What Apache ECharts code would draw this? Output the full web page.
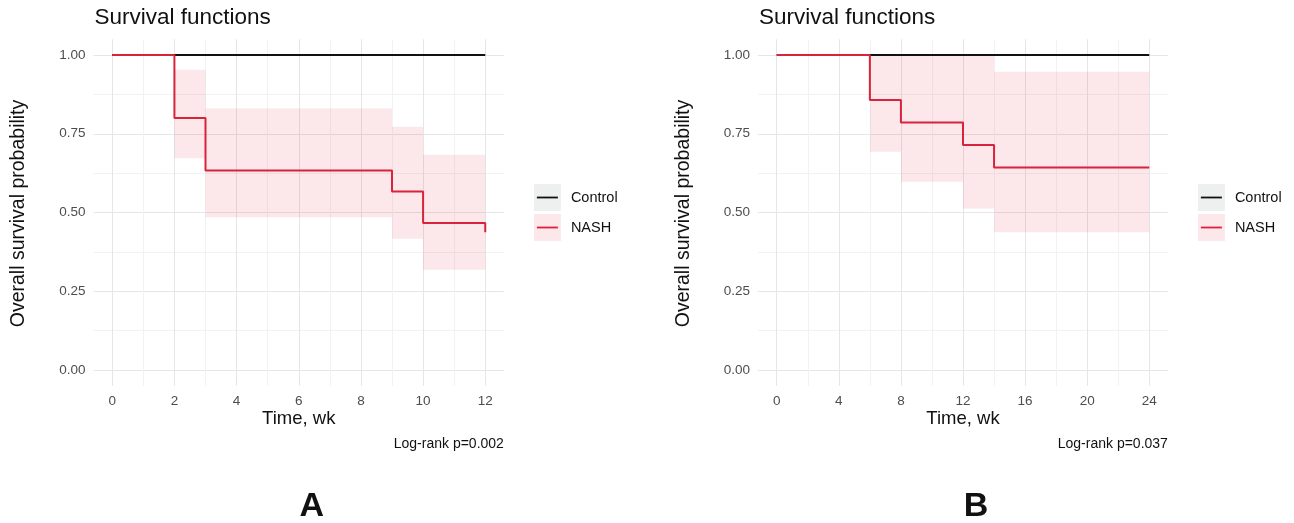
<!DOCTYPE html>
<html>
<head>
<meta charset="utf-8">
<script src="https://cdn.jsdelivr.net/npm/echarts@6/dist/echarts.min.js"></script>
<style>
html,body{margin:0;padding:0;background:#fff;}
#chart{width:1294px;height:523px;}
</style>
</head>
<body>
<div id="chart"></div>
<script>
// ---------- DATA ----------
// Panel A (Time, wk 0-12)
const timesA = [0, 2, 3, 9, 10, 12];
const survA  = [1, 0.800, 0.633, 0.567, 0.467, 0.437];
const lowerA = [1, 0.672, 0.485, 0.417, 0.318, 0.318];
const upperA = [1, 0.953, 0.830, 0.772, 0.683, 0.683];
const controlTimesA = [0, 12];
const controlSurvA  = [1, 1];
const xMajorA = [0, 2, 4, 6, 8, 10, 12];
const xMinorA = [1, 3, 5, 7, 9, 11];
const pvalueA = 'Log-rank p=0.002';

// Panel B (Time, wk 0-24)
const timesB = [0, 6, 8, 12, 14, 24];
const survB  = [1, 0.857, 0.786, 0.714, 0.643, 0.643];
const lowerB = [1, 0.693, 0.598, 0.513, 0.437, 0.437];
const upperB = [1, 1.000, 1.000, 1.000, 0.947, 0.947];
const controlTimesB = [0, 24];
const controlSurvB  = [1, 1];
const xMajorB = [0, 4, 8, 12, 16, 20, 24];
const xMinorB = [2, 6, 10, 14, 18, 22];
const pvalueB = 'Log-rank p=0.037';

const yMajor = [0, 0.25, 0.5, 0.75, 1];
const yMinor = [0.125, 0.375, 0.625, 0.875];
const groups = ['Control', 'NASH'];

// ---------- STYLE ----------
const FONT = '"Liberation Sans", Arial, sans-serif';
const RED = '#d9233a';
const BLACK = '#111111';
const BAND = 'rgba(226, 40, 70, 0.11)';
const MAJOR = '#e6e6e6';
const MINOR = '#f2f2f2';

const panels = [
  {left: 93.6, width: 410.3, xMin: -0.6, xMax: 12.6, major: xMajorA, minor: xMinorA,
   times: timesA, surv: survA, lower: lowerA, upper: upperA, cT: controlTimesA, cS: controlSurvA,
   pv: pvalueA, letter: 'A', yTitleX: 19},
  {left: 758.1, width: 409.8, xMin: -1.2, xMax: 25.2, major: xMajorB, minor: xMinorB,
   times: timesB, surv: survB, lower: lowerB, upper: upperB, cT: controlTimesB, cS: controlSurvB,
   pv: pvalueB, letter: 'B', yTitleX: 684}
];
const TOP = 39.25, HEIGHT = 346.5;

const grid = [], xAxis = [], yAxis = [], series = [], graphic = [];

panels.forEach((p, i) => {
  grid.push({left: p.left, top: TOP, width: p.width, height: HEIGHT, containLabel: false});
  // major x
  xAxis.push({
    type: 'value', gridIndex: i, min: p.xMin, max: p.xMax,
    axisLine: {show: false},
    axisTick: {show: false, customValues: p.major},
    axisLabel: {customValues: p.major, color: '#4d4d4d', fontFamily: FONT, fontSize: 13.5, margin: 9},
    splitLine: {show: true, lineStyle: {color: MAJOR, width: 1}}
  });
  // minor x
  xAxis.push({
    type: 'value', gridIndex: i, min: p.xMin, max: p.xMax,
    axisLine: {show: false},
    axisTick: {show: false, customValues: p.minor},
    axisLabel: {show: false},
    splitLine: {show: true, lineStyle: {color: MINOR, width: 1}}
  });
  yAxis.push({
    type: 'value', gridIndex: i, min: -0.05, max: 1.05,
    axisLine: {show: false},
    axisTick: {show: false, customValues: yMajor},
    axisLabel: {customValues: yMajor, color: '#4d4d4d', fontFamily: FONT, fontSize: 13.5, margin: 8,
      formatter: v => v.toFixed(2)},
    splitLine: {show: true, lineStyle: {color: MAJOR, width: 1}}
  });
  yAxis.push({
    type: 'value', gridIndex: i, min: -0.05, max: 1.05,
    axisLine: {show: false},
    axisTick: {show: false, customValues: yMinor},
    axisLabel: {show: false},
    splitLine: {show: true, lineStyle: {color: MINOR, width: 1}}
  });

  const xi = i * 2, yi = i * 2;
  // confidence band as step rectangles
  const bandData = [];
  for (let k = 0; k < p.times.length - 1; k++) {
    bandData.push([p.times[k], p.times[k + 1], p.lower[k], p.upper[k]]);
  }
  series.push({
    type: 'custom', name: 'NASH band', xAxisIndex: xi, yAxisIndex: yi,
    data: bandData, encode: {x: [0, 1], y: [2, 3]}, silent: true, z: 1,
    renderItem: (params, api) => {
      const a = api.coord([api.value(0), api.value(3)]);
      const b = api.coord([api.value(1), api.value(2)]);
      const w = b[0] - a[0], h = b[1] - a[1];
      if (w <= 0 || h <= 0) return null;
      return {type: 'rect', shape: {x: a[0], y: a[1], width: w, height: h},
              style: {fill: BAND}};
    }
  });
  series.push({
    type: 'line', name: groups[0], xAxisIndex: xi, yAxisIndex: yi, step: 'end',
    data: p.cT.map((t, k) => [t, p.cS[k]]), showSymbol: false, z: 3,
    lineStyle: {color: BLACK, width: 2}, animation: false
  });
  series.push({
    type: 'line', name: groups[1], xAxisIndex: xi, yAxisIndex: yi, step: 'end',
    data: p.times.map((t, k) => [t, p.surv[k]]), showSymbol: false, z: 4,
    lineStyle: {color: RED, width: 2}, animation: false
  });

  const right = p.left + p.width;
  const cx = p.left + p.width / 2;
  // title
  graphic.push({type: 'text', x: p.left + 0.8, y: 18,
    style: {text: 'Survival functions', font: '22.5px ' + FONT, fill: '#111', verticalAlign: 'middle'}});
  // y-axis title
  graphic.push({type: 'text', x: p.yTitleX, y: TOP + HEIGHT / 2 + 1, rotation: Math.PI / 2,
    style: {text: 'Overall survival probability', font: '19.5px ' + FONT, fill: '#111',
            align: 'center', verticalAlign: 'middle'}});
  // x-axis title
  graphic.push({type: 'text', x: cx, y: 419,
    style: {text: 'Time, wk', font: '18.5px ' + FONT, fill: '#111', align: 'center', verticalAlign: 'middle'}});
  // p value
  graphic.push({type: 'text', x: right, y: 444,
    style: {text: p.pv, font: '14px ' + FONT, fill: '#111', align: 'right', verticalAlign: 'middle'}});
  // panel letter
  graphic.push({type: 'text', x: cx + 13, y: 507,
    style: {text: p.letter, font: 'bold 34px ' + FONT, fill: '#111', align: 'center', verticalAlign: 'middle'}});
  // legend
  const lx = right + 30;
  const keys = [{bg: '#eeefef', c: BLACK, y: 184}, {bg: '#fce8eb', c: RED, y: 214}];
  keys.forEach((k, j) => {
    graphic.push({type: 'rect', shape: {x: lx, y: k.y, width: 27, height: 27}, style: {fill: k.bg}});
    graphic.push({type: 'line', shape: {x1: lx + 3, y1: k.y + 13.5, x2: lx + 24, y2: k.y + 13.5},
      style: {stroke: k.c, lineWidth: 1.8}});
    graphic.push({type: 'text', x: lx + 37, y: k.y + 13.5,
      style: {text: groups[j], font: '14.5px ' + FONT, fill: '#111', verticalAlign: 'middle'}});
  });
});

const chart = echarts.init(document.getElementById('chart'), null, {renderer: 'canvas'});
chart.setOption({
  animation: false,
  backgroundColor: '#fff',
  grid, xAxis, yAxis, series, graphic
});
</script>
</body>
</html>
